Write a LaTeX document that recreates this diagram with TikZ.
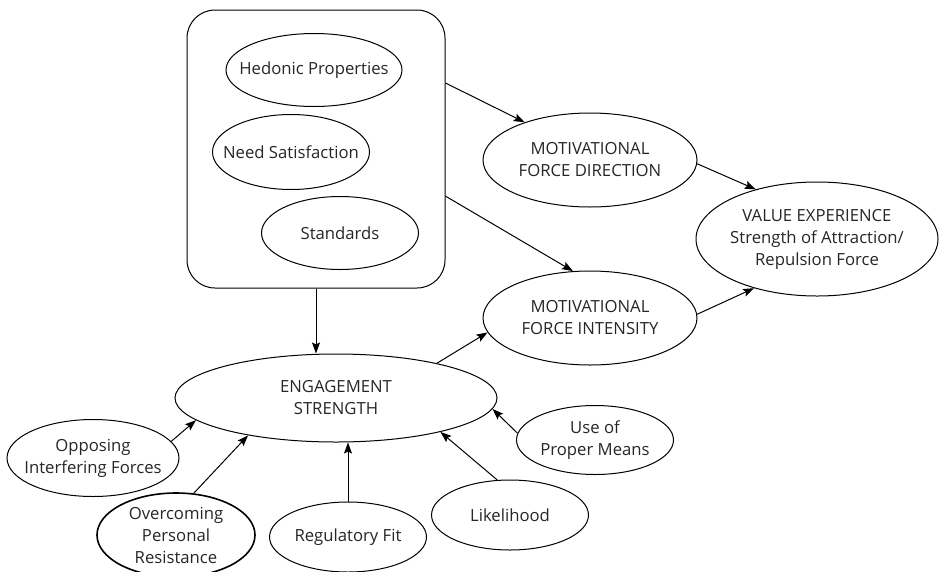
\documentclass[tikz,border=0pt]{standalone}
\usepackage{fontspec}
\setmainfont{Open Sans}
\usetikzlibrary{shapes.geometric,arrows.meta}
\begin{document}
\begin{tikzpicture}[x=1pt,y=-1pt,
  font=\fontsize{16.7}{22}\selectfont,
  oval/.style={ellipse,draw,line width=1pt,inner sep=0pt},
  ovaltext/.style={align=center,text=black!85},
  link/.style={line width=1pt,-{Stealth[length=11pt,width=8pt,inset=2pt]}}]
\useasboundingbox (0,0) rectangle (939,571);

% source box with its three ellipses
\node[draw,line width=1pt,rounded corners=28pt,minimum width=258pt,minimum height=278pt,inner sep=0pt] (box) at (316,149) {};
\node[oval,minimum width=176pt,minimum height=73pt,label={[ovaltext]center:Hedonic Properties}] (hed) at (314,70) {};
\node[oval,minimum width=157pt,minimum height=75pt,label={[ovaltext]center:Need Satisfaction}] (need) at (291,152) {};
\node[oval,minimum width=157pt,minimum height=73pt,label={[ovaltext]center:Standards}] (std) at (340,233) {};

% motivational forces and value experience
\node[oval,minimum width=214pt,minimum height=94pt,label={[ovaltext]center:MOTIVATIONAL\\FORCE DIRECTION}] (mfd) at (590,160) {};
\node[oval,minimum width=214pt,minimum height=94pt,label={[ovaltext]center:MOTIVATIONAL\\FORCE INTENSITY}] (mfi) at (590,318) {};
\node[oval,minimum width=242pt,minimum height=114pt,label={[ovaltext]center:VALUE EXPERIENCE\\Strength of Attraction/\\Repulsion Force}] (ve) at (817,239) {};

% engagement and its contributing factors
\node[oval,minimum width=322pt,minimum height=88pt,label={[ovaltext]center:ENGAGEMENT\\STRENGTH}] (eng) at (336,398) {};
\node[oval,minimum width=172pt,minimum height=77pt,label={[ovaltext]center:Opposing\\Interfering Forces}] (opp) at (93,458) {};
\node[oval,line width=1.6pt,minimum width=158pt,minimum height=84pt,label={[ovaltext]center:Overcoming\\Personal\\Resistance}] (ovc) at (176,535) {};
\node[oval,minimum width=157pt,minimum height=70pt,label={[ovaltext]center:Regulatory Fit}] (reg) at (348,537) {};
\node[oval,minimum width=157pt,minimum height=70pt,label={[ovaltext]center:Likelihood}] (lik) at (510,515) {};
\node[oval,minimum width=157pt,minimum height=69pt,label={[ovaltext]center:Use of\\Proper Means}] (upm) at (595,440) {};

% connectors
\draw[link] (box.south) -- (eng.north -| box.south);
\draw[link] (box.27.1) -- (mfd.150.3);
\draw[link] (box.-20.4) -- (mfi.110.3);
\draw[link] (mfd.-2.2) -- (ve.141.7);
\draw[link] (mfi.2.2) -- (ve.218.3);
\draw[link] (eng.19.8) -- (mfi.188.9);
\draw[link] (opp.12.1) -- (eng.189.7);
\draw[link] (ovc.67.5) -- (eng.203.1);
\draw[link] (reg.north) -- (eng.south -| reg.north);
\draw[link] (lik.110.4) -- (eng.-18.9);
\draw[link] (upm.175.5) -- (eng.-4.4);
\end{tikzpicture}
\end{document}
